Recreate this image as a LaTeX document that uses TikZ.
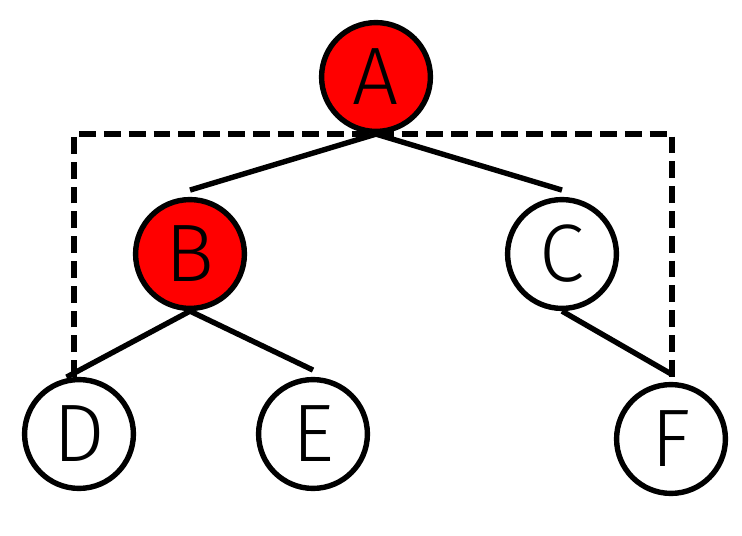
\documentclass[tikz,border=0pt]{standalone}
\usepackage{fontspec}
\setmainfont{Fira Sans Light}
\usetikzlibrary{calc}
\definecolor{hotred}{RGB}{255, 0, 0}
\tikzset{
  treenode/.style={circle, draw=black, line width=0.135cm, fill=white, minimum size=2.72cm, inner sep=0pt, font=\fontsize{58}{62}\selectfont},
  hotnode/.style={treenode, fill=hotred},
  edgeline/.style={line width=0.135cm, black},
  framedash/.style={line width=0.135cm, black, dash pattern=on 0.42cm off 0.2cm}
}
\begin{document}
\begin{tikzpicture}[x=0.025cm, y=-0.025cm]
    \useasboundingbox (0, 0) rectangle (742, 536);

    % tree nodes
    \node[hotnode] (A) at (376, 77) {A};
    \node[hotnode] (B) at (190, 254) {B};
    \node[treenode] (C) at (562, 254) {C};
    \node[treenode] (D) at (79, 434) {D};
    \node[treenode] (E) at (313, 434) {E};
    \node[treenode] (F) at (671, 439) {F};

    % dashed frame
    \coordinate (dl) at (74, 377);
    \coordinate (dr) at (672, 377);
    \draw[framedash] (dl) |- (A.south) -| (dr);

    % edges, ending just above the child
    \draw[edgeline] (A.south) -- ([yshift=0.17cm]B.north);
    \draw[edgeline] (A.south) -- ([yshift=0.17cm]C.north);
    \draw[edgeline, shorten >=0.12cm] (B.south) -- (D.107);
    \draw[edgeline] (B.south) -- ([yshift=0.17cm]E.north);
    \draw[edgeline] (C.south) -- ([yshift=0.2cm]F.north);
\end{tikzpicture}
\end{document}
